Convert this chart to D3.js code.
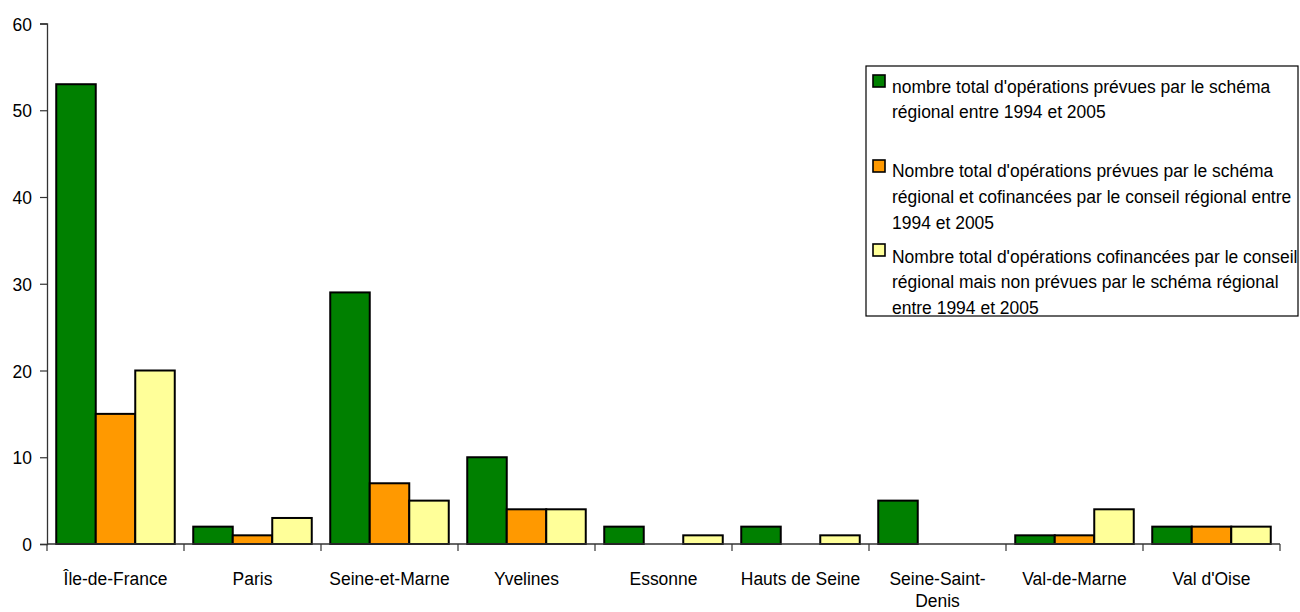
<!DOCTYPE html>
<html><head><meta charset="utf-8">
<script src="https://cdn.jsdelivr.net/npm/d3@7"></script>
<style>body{margin:0;background:#fff}svg{display:block}text{font-family:"Liberation Sans",Arial,sans-serif;fill:#000}</style>
</head><body><svg id="c" width="1300" height="612"></svg>
<script>
const categories = ["Île-de-France","Paris","Seine-et-Marne","Yvelines","Essonne","Hauts de Seine","Seine-Saint-Denis","Val-de-Marne","Val d'Oise"];
const prevues = [53,2,29,10,2,2,5,1,2];
const prevuesCofinancees = [15,1,7,4,0,0,0,1,2];
const cofinanceesNonPrevues = [20,3,5,4,1,1,0,4,2];
const seriesNames = [
  ["nombre total d'opérations prévues par le schéma","régional entre 1994 et 2005"],
  ["Nombre total d'opérations prévues par le schéma","régional et cofinancées par le conseil régional entre","1994 et 2005"],
  ["Nombre total d'opérations cofinancées par le conseil","régional mais non prévues par le schéma régional","entre 1994 et 2005"]
];
const colors = ["#008000","#FF9900","#FFFF99"];
const yTicks = [0,10,20,30,40,50,60];
const series = [prevues, prevuesCofinancees, cofinanceesNonPrevues];

const FS = 19, SX = 0.92;
const svg = d3.select("#c");
const x0 = 47, x1 = 1280, yTop = 23.5, yBot = 544;
const x = d3.scaleBand().domain(categories).range([x0, x1]).paddingInner(0).paddingOuter(0);
const xs = d3.scaleBand().domain([0,1,2]).range([0, x.bandwidth()]).paddingOuter(0.234).paddingInner(0);
const y = d3.scaleLinear().domain([0,60]).range([yBot, yTop]);

function txt(parent, px, py, lines, anchor, lh) {
  const t = parent.append("text")
    .attr("transform", `translate(${px},${py}) scale(${SX},1)`)
    .attr("text-anchor", anchor).style("font-size", FS + "px");
  lines.forEach((l, j) => t.append("tspan").attr("x", 0).attr("y", j * lh).text(l));
  return t;
}

// bars
categories.forEach((c, i) => {
  series.forEach((s, k) => {
    const v = s[i];
    if (v <= 0) return;
    svg.append("rect")
      .attr("x", x(c) + xs(k))
      .attr("y", y(v))
      .attr("width", xs.bandwidth())
      .attr("height", y(0) - y(v))
      .attr("fill", colors[k])
      .attr("stroke", "#000")
      .attr("stroke-width", 2);
  });
});

// y axis
const ya = svg.append("g").attr("transform", `translate(${x0},0)`)
  .call(d3.axisLeft(y).tickValues(yTicks).tickSize(7).tickFormat(""));
ya.select(".domain").attr("stroke", "#333").attr("stroke-width", 1.3);
ya.selectAll(".tick line").attr("stroke", "#333").attr("stroke-width", 1.2);
yTicks.forEach(v => txt(svg, 32, y(v) + 7, [d3.format("d")(v)], "end", 0));

// x axis line + ticks at boundaries
const boundaries = categories.map(c => x(c)).concat([x1]);
svg.append("line").attr("x1", x0).attr("x2", x1).attr("y1", yBot).attr("y2", yBot).attr("stroke", "#333").attr("stroke-width", 1.5);
svg.selectAll(".xt").data(boundaries).enter().append("line")
  .attr("x1", d => d).attr("x2", d => d).attr("y1", yBot).attr("y2", yBot + 7)
  .attr("stroke", "#333").attr("stroke-width", 1.2);

// category labels
const labelLines = c => c === "Seine-Saint-Denis" ? ["Seine-Saint-","Denis"] : [c];
categories.forEach(c => txt(svg, x(c) + x.bandwidth()/2, 585, labelLines(c), "middle", 22));

// legend
const lg = svg.append("g");
lg.append("rect").attr("x", 866).attr("y", 66).attr("width", 432).attr("height", 250)
  .attr("fill", "#fff").attr("stroke", "#000").attr("stroke-width", 1.2);
const swTop = [75, 160, 244];
const baseY = [92.5, 177, 262.5];
seriesNames.forEach((lines, k) => {
  lg.append("rect").attr("x", 873).attr("y", swTop[k]).attr("width", 12).attr("height", 12)
    .attr("fill", colors[k]).attr("stroke", "#000").attr("stroke-width", 1.6);
  txt(lg, 892, baseY[k], lines, "start", 26);
});
</script></body></html>
